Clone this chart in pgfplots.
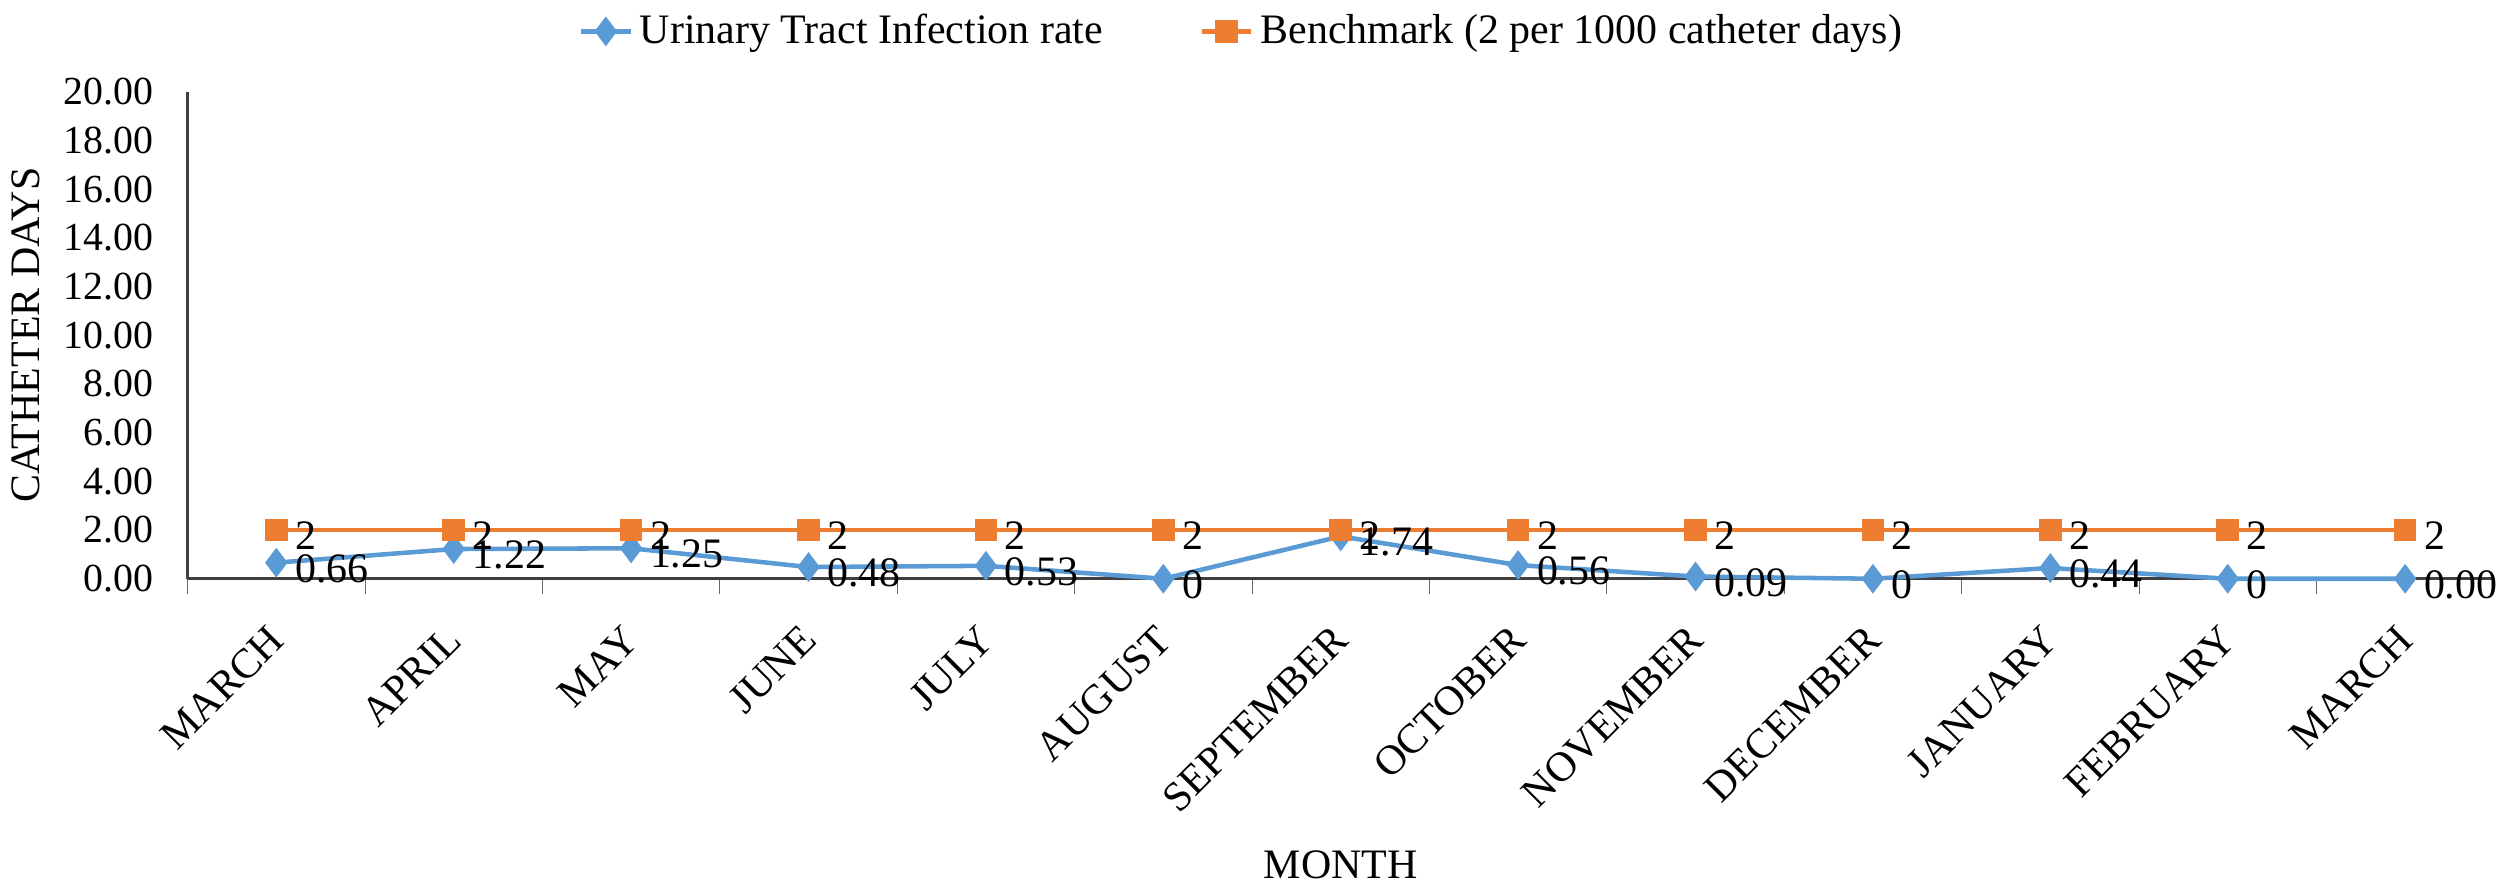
\documentclass[border=0pt]{standalone}
\usepackage{fontspec}
\setmainfont{Liberation Serif}
\usepackage{pgfplots}
\pgfplotsset{compat=1.18}
\definecolor{utiblue}{HTML}{5B9BD5}
\definecolor{benchorange}{HTML}{ED7D31}
\newcommand\fs{\fontsize{12}{14}\selectfont}
\newcommand\ts{\fontsize{11.4}{13}\selectfont}

\begin{document}
\begin{tikzpicture}
\begin{axis}[
  scale only axis,
  width=232mm,
  height=49mm,
  xmin=-0.5, xmax=12.5,
  ymin=0, ymax=20,
  clip=false,
  ytick={0,2,...,20},
  yticklabel style={/pgf/number format/fixed,/pgf/number format/fixed zerofill,/pgf/number format/precision=2},
  /pgf/number format/assume math mode=true,
  xtick={0,...,12},
  xticklabels={MARCH,APRIL,MAY,JUNE,JULY,AUGUST,SEPTEMBER,OCTOBER,NOVEMBER,DECEMBER,JANUARY,FEBRUARY,MARCH},
  minor xtick={-0.5,0.5,...,12.5},
  axis x line*=bottom,
  axis y line*=left,
  axis line style={black!75,line width=0.8pt},
  major tick length=0pt,
  minor tick length=1.5mm,
  tick align=outside,
  minor tick style={black!60},
  tick label style={font=\fs},
  x tick label style={xshift=0.9mm,yshift=-4.6mm,rotate=45,anchor=east},
  y tick label style={font=\ts,xshift=-2.2mm},
  label style={font=\fs},
  ylabel={CATHETER DAYS},
  xlabel={MONTH},
  xlabel style={yshift=-0.8mm},
  legend style={font=\fs,draw=none,fill=none,at={(0.458,1.058)},anchor=south,legend columns=2,
    /tikz/every even column/.append style={column sep=9mm}},
  legend image code/.code={\draw[mark repeat=2,mark phase=2] plot coordinates {(0cm,0cm)(0.25cm,0cm)(0.5cm,0cm)};},
  nodes near coords,
  point meta=explicit symbolic,
  nodes near coords style={font=\fs,text=black,anchor=west,xshift=0.5mm,yshift=-0.6mm},
]
\addplot[utiblue,line width=1.3pt,mark=diamond*,mark size=3.2pt,mark options={fill=utiblue,solid}]
  coordinates {(0,0.66)[0.66] (1,1.22)[1.22] (2,1.25)[1.25] (3,0.48)[0.48] (4,0.53)[0.53] (5,0)[0]
    (6,1.74)[1.74] (7,0.56)[0.56] (8,0.09)[0.09] (9,0)[0] (10,0.44)[0.44] (11,0)[0] (12,0)[0.00]};
\addlegendentry{Urinary Tract Infection rate}
\addplot[benchorange,line width=1.3pt,mark=square*,mark size=2.6pt,mark options={fill=benchorange,solid}]
  coordinates {(0,2)[2] (1,2)[2] (2,2)[2] (3,2)[2] (4,2)[2] (5,2)[2] (6,2)[2] (7,2)[2] (8,2)[2]
    (9,2)[2] (10,2)[2] (11,2)[2] (12,2)[2]};
\addlegendentry{Benchmark (2 per 1000 catheter days)}
\end{axis}
\end{tikzpicture}
\end{document}
